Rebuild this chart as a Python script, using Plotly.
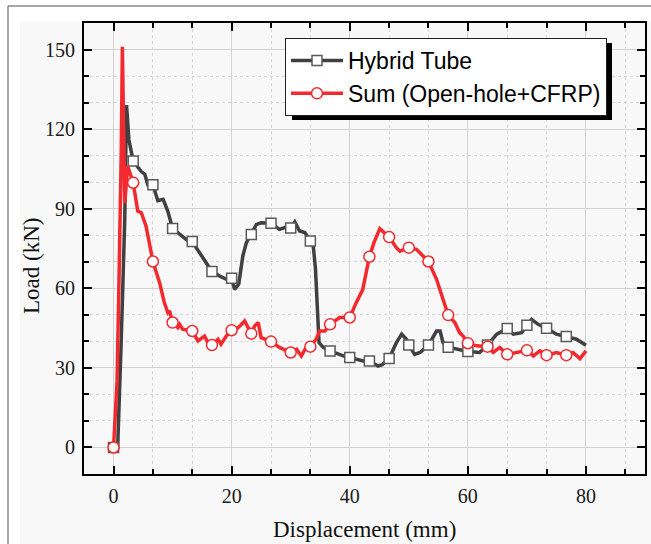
import plotly.graph_objects as go

# ---------------- data ----------------
hybrid_x = [0, 0.7, 1.3, 1.9, 2.2, 2.6, 3.33, 4.1, 4.7, 5.3, 5.8, 6.67, 7.5, 8.4, 9.2, 10.0,
            11.2, 12.3, 13.33, 14.0, 15.1, 16.0, 16.67, 18.0, 19.1, 20.0, 20.5, 21.2, 21.9,
            22.5, 23.33, 24.2, 25.0, 26.67, 28.1, 29.0, 30.0, 30.7, 31.5, 32.4, 33.33, 33.8,
            34.2, 34.5, 34.8, 35.5, 36.67, 38.9, 40.0, 42.3, 43.33, 44.8, 45.5, 46.67, 47.9,
            48.8, 49.6, 50.0, 51.0, 51.9, 53.33, 54.7, 55.3, 55.8, 56.67, 58.6, 60.0, 62.0,
            63.33, 64.9, 66.67, 67.7, 69.1, 70.0, 70.8, 71.9, 73.33, 75.0, 76.67, 78.4, 80.0]
hybrid_y = [0, 0, 40, 86, 129, 116, 108, 105.6, 104, 103, 99, 99, 93, 93.5, 89, 82.5,
            80.3, 78.4, 77.6, 75.3, 71.6, 68.2, 66.3, 64.6, 63.4, 63.8, 59.6, 61.5, 72.2,
            77.2, 80.3, 84.1, 84.7, 84.5, 82.2, 82.9, 82.7, 85.0, 81.6, 81.0, 77.8, 76.6,
            67.2, 50.8, 39.5, 37.7, 36.4, 34.5, 33.9, 32.6, 32.6, 30.7, 31.2, 33.5, 39.5,
            42.7, 40.8, 38.6, 35.1, 35.8, 38.6, 43.9, 43.9, 39.5, 37.8, 37.0, 36.2, 35.8,
            38.6, 42.7, 44.8, 42.7, 43.3, 46.1, 48.3, 46.4, 44.9, 42.7, 41.8, 40.8, 38.5]

sum_x = [0, 0.6, 0.9, 1.1, 1.3, 1.5, 1.7, 1.9, 2.4, 3.33, 4.1, 4.7, 5.5, 6.1, 6.67, 7.8,
         8.6, 9.2, 9.5, 10.0, 10.9, 11.2, 11.7, 13.33, 14.3, 15.4, 16.0, 16.67, 17.7, 18.2,
         19.1, 20.0, 20.8, 21.4, 22.2, 22.8, 23.33, 23.9, 24.5, 25.0, 26.67, 28.1, 30.0,
         31.0, 31.8, 32.6, 33.33, 34.3, 34.9, 35.8, 36.67, 38.3, 40.0, 41.1, 42.2, 43.33,
         44.1, 45.1, 46.67, 47.9, 48.5, 50.0, 51.3, 53.33, 54.7, 55.8, 56.67, 57.8, 58.6,
         59.2, 60.0, 61.5, 63.33, 64.3, 65.4, 66.67, 68.2, 70.0, 71.1, 72.2, 73.33, 75.0,
         76.67, 77.8, 79.0, 80.0]
sum_y = [0, 25, 60, 80, 110, 151, 110, 92, 106, 99.8, 89.1, 88.5, 83.5, 77.2, 70.1, 62.1,
         54.6, 50.8, 51.5, 47.1, 45.2, 46.4, 44.6, 43.9, 40.2, 42.0, 39.5, 38.6, 40.8, 38.9,
         42.0, 44.2, 44.6, 45.8, 47.7, 45.2, 42.9, 45.8, 47.1, 41.4, 39.9, 37.7, 35.8,
         37.0, 34.5, 37.7, 38.0, 40.8, 43.9, 43.9, 46.4, 49.0, 49.0, 54.6, 59.5, 71.9,
         77.2, 82.5, 79.3, 75.3, 74.0, 75.3, 74.7, 70.1, 63.4, 55.9, 49.9, 47.1, 43.3,
         42.0, 39.3, 38.3, 38.0, 35.8, 37.7, 35.1, 35.8, 36.6, 34.5, 36.4, 34.8, 35.8,
         34.8, 35.8, 33.5, 36.4]

marker_x = [0, 3.33, 6.67, 10.0, 13.33, 16.67, 20.0, 23.33, 26.67, 30.0, 33.33, 36.67,
            40.0, 43.33, 46.67, 50.0, 53.33, 56.67, 60.0, 63.33, 66.67, 70.0, 73.33, 76.67]
hybrid_marker_y = [0, 108, 99, 82.5, 77.6, 66.3, 63.8, 80.3, 84.5, 82.7, 77.8, 36.4,
                   33.9, 32.6, 33.5, 38.6, 38.6, 37.8, 36.2, 38.6, 44.8, 46.1, 44.9, 41.8]
sum_marker_y = [0, 99.8, 70.1, 47.1, 43.9, 38.6, 44.2, 42.9, 39.9, 35.8, 38.0, 46.4,
                49.0, 71.9, 79.3, 75.3, 70.1, 49.9, 39.3, 38.0, 35.1, 36.6, 34.8, 34.8]

series_names = ["Hybrid Tube", "Sum (Open-hole+CFRP)"]
x_title = "Displacement (mm)"
y_title = "Load (kN)"


def isolated(xs, ys):
    """Markers only, separated by gaps so no connecting line is drawn."""
    gx, gy = [], []
    for a, b in zip(xs, ys):
        gx += [a, None]
        gy += [b, None]
    return gx, gy


GRAY = "#404040"
RED = "#f2292e"
LW = 3.5

fig = go.Figure()
# Hybrid tube
fig.add_trace(go.Scatter(x=hybrid_x, y=hybrid_y, mode="lines",
                         line=dict(color=GRAY, width=LW), showlegend=False, hoverinfo="skip"))
hx, hy = isolated(marker_x, hybrid_marker_y)
fig.add_trace(go.Scatter(x=hx, y=hy, mode="lines+markers", name=series_names[0],
                         connectgaps=False,
                         line=dict(color=GRAY, width=LW),
                         marker=dict(symbol="square", size=10, color="white",
                                     line=dict(color="#5a5a5a", width=1.5))))
# Sum
fig.add_trace(go.Scatter(x=sum_x, y=sum_y, mode="lines",
                         line=dict(color=RED, width=LW), showlegend=False, hoverinfo="skip"))
sx, sy = isolated(marker_x, sum_marker_y)
fig.add_trace(go.Scatter(x=sx, y=sy, mode="lines+markers", name=series_names[1],
                         connectgaps=False,
                         line=dict(color=RED, width=LW),
                         marker=dict(symbol="circle", size=11, color="white",
                                     line=dict(color=RED, width=1.5))))

SERIF = "Liberation Serif"
axis_common = dict(
    showline=True, linewidth=2, linecolor="black", mirror="allticks",
    ticks="inside", ticklen=8, tickwidth=2, tickcolor="black",
    showgrid=True, gridcolor="#d2d2d2", gridwidth=1, zeroline=False,
    tickfont=dict(family=SERIF, size=20, color="#1a1a1a"),
    ticklabelstandoff=3, automargin=False,
)

fig.update_xaxes(range=[-5, 90], tick0=0, dtick=20,
                 minor=dict(tick0=0, dtick=20 / 3, ticks="inside", ticklen=5, tickwidth=1.5,
                            tickcolor="black", showgrid=True, gridcolor="#d6d6d6",
                            griddash="dot", gridwidth=1),
                 **axis_common)
fig.update_yaxes(range=[-10, 160], tick0=0, dtick=30,
                 minor=dict(tick0=0, dtick=10, ticks="inside", ticklen=5, tickwidth=1.5,
                            tickcolor="black", showgrid=True, gridcolor="#d6d6d6",
                            griddash="dot", gridwidth=1),
                 **axis_common)

L, R, T, B, W, H = 84, 6, 23, 70, 651, 544
pw, ph = W - L - R, H - T - B


def px(x):
    return (x - L) / pw


def py(y):
    return (H - B - y) / ph


shapes = [
    # light page background behind the chart
    dict(type="rect", xref="paper", yref="paper", x0=px(20), x1=px(660), y0=py(560), y1=py(22),
         fillcolor="#f8f8f8", line=dict(width=0), layer="below"),
    # outer frame lines
    dict(type="line", xref="paper", yref="paper", x0=px(8), x1=px(660), y0=py(6), y1=py(6),
         line=dict(color="#8a8a8a", width=1.5)),
    dict(type="line", xref="paper", yref="paper", x0=px(8), x1=px(8), y0=py(6), y1=py(560),
         line=dict(color="#8a8a8a", width=1.5)),
    # legend drop shadow (legend box itself is drawn on top of it)
    dict(type="rect", xref="paper", yref="paper", x0=px(292), x1=px(612), y0=py(120), y1=py(43),
         fillcolor="black", line=dict(width=0), layer="above"),
]

annotations = [
    dict(text=x_title, xref="paper", yref="paper", x=px(364), y=py(529),
         xanchor="center", yanchor="middle", showarrow=False,
         font=dict(family=SERIF, size=23, color="#111")),
    dict(text=y_title, xref="paper", yref="paper", x=px(31), y=py(266), textangle=-90,
         xanchor="center", yanchor="middle", showarrow=False,
         font=dict(family=SERIF, size=23, color="#111")),
]

fig.update_layout(
    width=W, height=H, autosize=False,
    margin=dict(l=L, r=R, t=T, b=B, pad=0),
    paper_bgcolor="white", plot_bgcolor="#fafafa",
    shapes=shapes, annotations=annotations,
    legend=dict(x=px(285), y=py(38), xanchor="left", yanchor="top",
                bgcolor="white", bordercolor="#222", borderwidth=1,
                font=dict(family="Liberation Sans", size=23, color="black"),
                tracegroupgap=0, itemwidth=52),
    showlegend=True,
)

fig.write_html("out.html",
               post_script="document.body.style.margin='0';document.body.style.overflow='hidden';",
               config={"displayModeBar": False})
